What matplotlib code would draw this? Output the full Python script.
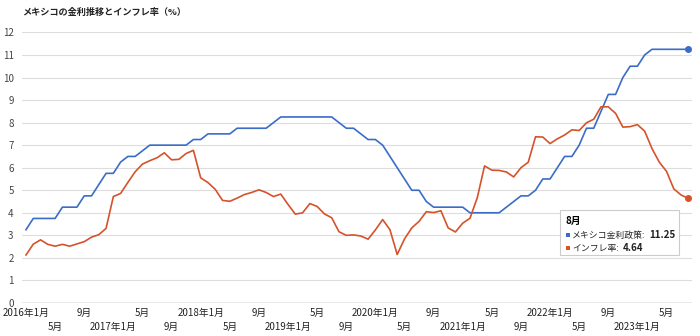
import matplotlib
matplotlib.use("Agg")
import matplotlib.pyplot as plt
from matplotlib.patches import Rectangle

plt.rcParams['font.family'] = ['Noto Sans CJK JP', 'DejaVu Sans']

# monthly series, 2016年1月 .. 2023年8月
policy_rate = [
    3.25, 3.75, 3.75, 3.75, 3.75, 4.25, 4.25, 4.25, 4.75, 4.75, 5.25, 5.75,   # 2016
    5.75, 6.25, 6.5, 6.5, 6.75, 7.0, 7.0, 7.0, 7.0, 7.0, 7.0, 7.25,          # 2017
    7.25, 7.5, 7.5, 7.5, 7.5, 7.75, 7.75, 7.75, 7.75, 7.75, 8.0, 8.25,       # 2018
    8.25, 8.25, 8.25, 8.25, 8.25, 8.25, 8.25, 8.0, 7.75, 7.75, 7.5, 7.25,    # 2019
    7.25, 7.0, 6.5, 6.0, 5.5, 5.0, 5.0, 4.5, 4.25, 4.25, 4.25, 4.25,         # 2020
    4.25, 4.0, 4.0, 4.0, 4.0, 4.0, 4.25, 4.5, 4.75, 4.75, 5.0, 5.5,          # 2021
    5.5, 6.0, 6.5, 6.5, 7.0, 7.75, 7.75, 8.5, 9.25, 9.25, 10.0, 10.5,        # 2022
    10.5, 11.0, 11.25, 11.25, 11.25, 11.25, 11.25, 11.25,                    # 2023
]
inflation = [
    2.13, 2.61, 2.80, 2.60, 2.52, 2.60, 2.52, 2.62, 2.72, 2.92, 3.03, 3.31,
    4.72, 4.86, 5.35, 5.82, 6.16, 6.31, 6.44, 6.66, 6.35, 6.37, 6.63, 6.77,
    5.55, 5.34, 5.04, 4.55, 4.51, 4.65, 4.81, 4.90, 5.02, 4.90, 4.72, 4.83,
    4.37, 3.94, 4.00, 4.41, 4.28, 3.95, 3.78, 3.16, 3.00, 3.02, 2.97, 2.83,
    3.24, 3.70, 3.25, 2.15, 2.84, 3.33, 3.62, 4.05, 4.01, 4.09, 3.33, 3.15,
    3.54, 3.76, 4.67, 6.08, 5.89, 5.88, 5.81, 5.59, 6.00, 6.24, 7.37, 7.36,
    7.07, 7.28, 7.45, 7.68, 7.65, 7.99, 8.15, 8.70, 8.70, 8.41, 7.80, 7.82,
    7.91, 7.62, 6.85, 6.25, 5.84, 5.06, 4.79, 4.64,
]
tick_labels = ["2016年1月", "5月", "9月", "2017年1月", "5月", "9月",
               "2018年1月", "5月", "9月", "2019年1月", "5月", "9月",
               "2020年1月", "5月", "9月", "2021年1月", "5月", "9月",
               "2022年1月", "5月", "9月", "2023年1月", "5月"]
series_names = ["メキシコ金利政策", "インフレ率"]
last_label = "8月"

BLUE = "#3a6cc8"
RED = "#d4532a"

W, H = 700, 336
fig = plt.figure(figsize=(W / 100, H / 100), dpi=100)
ax = fig.add_axes([22 / W, 33 / H, 670 / W, 270.6 / H])

months = list(range(len(policy_rate)))
ax.plot(months, policy_rate, color=BLUE, lw=1.2, solid_joinstyle='round')
ax.plot(months, inflation, color=RED, lw=1.2, solid_joinstyle='round')
ax.plot(months[-1], policy_rate[-1], 'o', color=BLUE, ms=4)
ax.plot(months[-1], inflation[-1], 'o', color=RED, ms=4)

ax.set_xlim(-0.55, 91.5)
ax.set_ylim(0, 12)
ax.set_yticks(range(0, 13))
ax.tick_params(axis='y', length=0, pad=6, labelsize=7, labelcolor='#444444')
ax.set_xticks([])
ax.grid(axis='y', color='#dddddd', lw=0.8)
ax.set_axisbelow(True)
for s in ax.spines.values():
    s.set_visible(False)
ax.axhline(0, color='#999999', lw=1)

# staggered month labels, two rows
for i, lab in enumerate(tick_labels):
    yrow = -0.037 if i % 2 == 0 else -0.089
    ax.text(i * 4, yrow, lab, transform=ax.get_xaxis_transform(),
            ha='center', va='center', fontsize=7, color='#222222')

fig.text(22 / W, 1 - 12 / H, "メキシコの金利推移とインフレ率（%）",
         fontsize=6.6, fontweight='bold', va='center', ha='left', color='#222222')

# hover box for the last month
def fx(px):
    return px / W

def fy(py):
    return 1 - py / H

renderer = fig.canvas.get_renderer()
fig.patches.append(Rectangle((fx(561), fy(256)), 119 / W, 45 / H,
                             transform=fig.transFigure, facecolor='#e8e8e8',
                             edgecolor='none', zorder=5))
fig.patches.append(Rectangle((fx(560), fy(255)), 119 / W, 45 / H,
                             transform=fig.transFigure, facecolor='white',
                             edgecolor='#cccccc', lw=0.8, zorder=6))
fig.text(fx(566), fy(221), last_label, fontsize=7, fontweight='bold',
         va='center', ha='left', zorder=7)
rows = [(235, BLUE, series_names[0], policy_rate[-1]),
        (248, RED, series_names[1], inflation[-1])]
for py, col, name, val in rows:
    fig.patches.append(Rectangle((fx(566), fy(py + 2)), 4 / W, 4 / H,
                                 transform=fig.transFigure, facecolor=col,
                                 edgecolor='none', zorder=7))
    t = fig.text(fx(572), fy(py), name + ":", fontsize=6.4, va='center',
                 ha='left', color='#222222', zorder=7)
    right = t.get_window_extent(renderer).x1
    fig.text(right / W + 4 / W, fy(py), f"{val:.2f}", fontsize=7,
             fontweight='bold', va='center', ha='left', color='#222222', zorder=7)

fig.savefig("out.png", dpi=100)
